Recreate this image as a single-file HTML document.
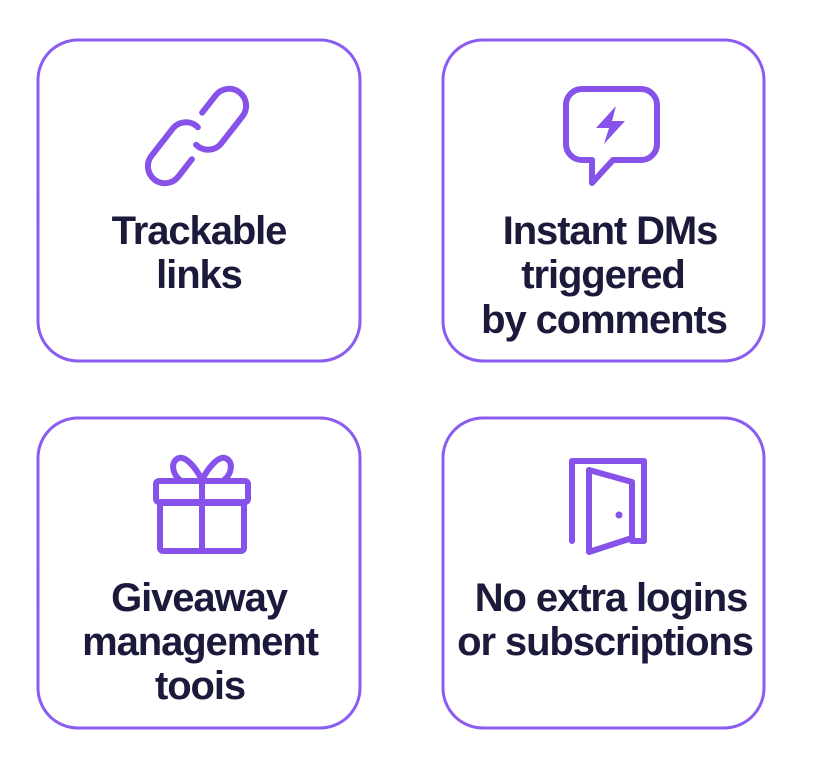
<!DOCTYPE html>
<html><head><meta charset="utf-8"><style>
html,body{margin:0;padding:0;background:#fff;}
svg{display:block}
text{font-family:"Liberation Sans",sans-serif;font-weight:bold;fill:#1b1a3a;font-size:40px;text-anchor:middle;letter-spacing:-1.1px}
</style></head><body>
<svg width="814" height="763" viewBox="0 0 814 763" xmlns="http://www.w3.org/2000/svg">
<g fill="none" stroke="#8b5cf0" stroke-width="3">
<rect x="38" y="40" width="322" height="321" rx="40"/>
<rect x="443" y="40" width="321" height="321" rx="40"/>
<rect x="38" y="418" width="322" height="310" rx="40"/>
<rect x="443" y="418" width="321" height="310" rx="40"/>
</g>
<g fill="none" stroke="#8652ea" stroke-width="6" stroke-linecap="round" stroke-linejoin="round">
<g transform="translate(218,120) rotate(38)">
<path d="M -17,4 L -17,-18 A17 17 0 0 1 17,-18 L 17,16 A17 17 0 0 1 -2,33"/>
</g>
<g transform="translate(176,152) rotate(38)">
<path d="M 17,-4 L 17,18 A17 17 0 0 1 -17,18 L -17,-16 A17 17 0 0 1 2,-33"/>
</g>
<path d="M582,89 H641 A16 16 0 0 1 657,105 V144 A16 16 0 0 1 641,160 H613 L592,183 V160 H582 A16 16 0 0 1 566,144 V105 A16 16 0 0 1 582,89 Z"/>
<rect x="156" y="481" width="92" height="21" rx="3"/>
<rect x="160" y="503" width="84" height="48" rx="3"/>
<line x1="202" y1="481" x2="202" y2="551"/>
<path d="M202,480 C196,468 186,456 179,458 C170,461 172,474 180,480"/>
<path d="M202,480 C208,468 218,456 225,458 C234,461 232,474 224,480"/>
<path d="M572,541 V461 H644 V541 H632"/>
<path d="M589,470 L632,482 V538 L589,552 Z"/>
</g>
<g fill="#8652ea">
<path d="M616,106 L596,128 H609 L604,144 L625,121 H612 Z"/>
<circle cx="619" cy="515" r="3.5"/>
</g>
<text x="199" y="244">Trackable</text>
<text x="199" y="288">links</text>
<text x="610" y="244">Instant DMs</text>
<text x="603" y="288">triggered</text>
<text x="604" y="333">by comments</text>
<text x="199" y="611">Giveaway</text>
<text x="200" y="655">management</text>
<text x="200" y="699">toois</text>
<text x="611" y="611">No extra logins</text>
<text x="605" y="655">or subscriptions</text>
</svg>
</body></html>
